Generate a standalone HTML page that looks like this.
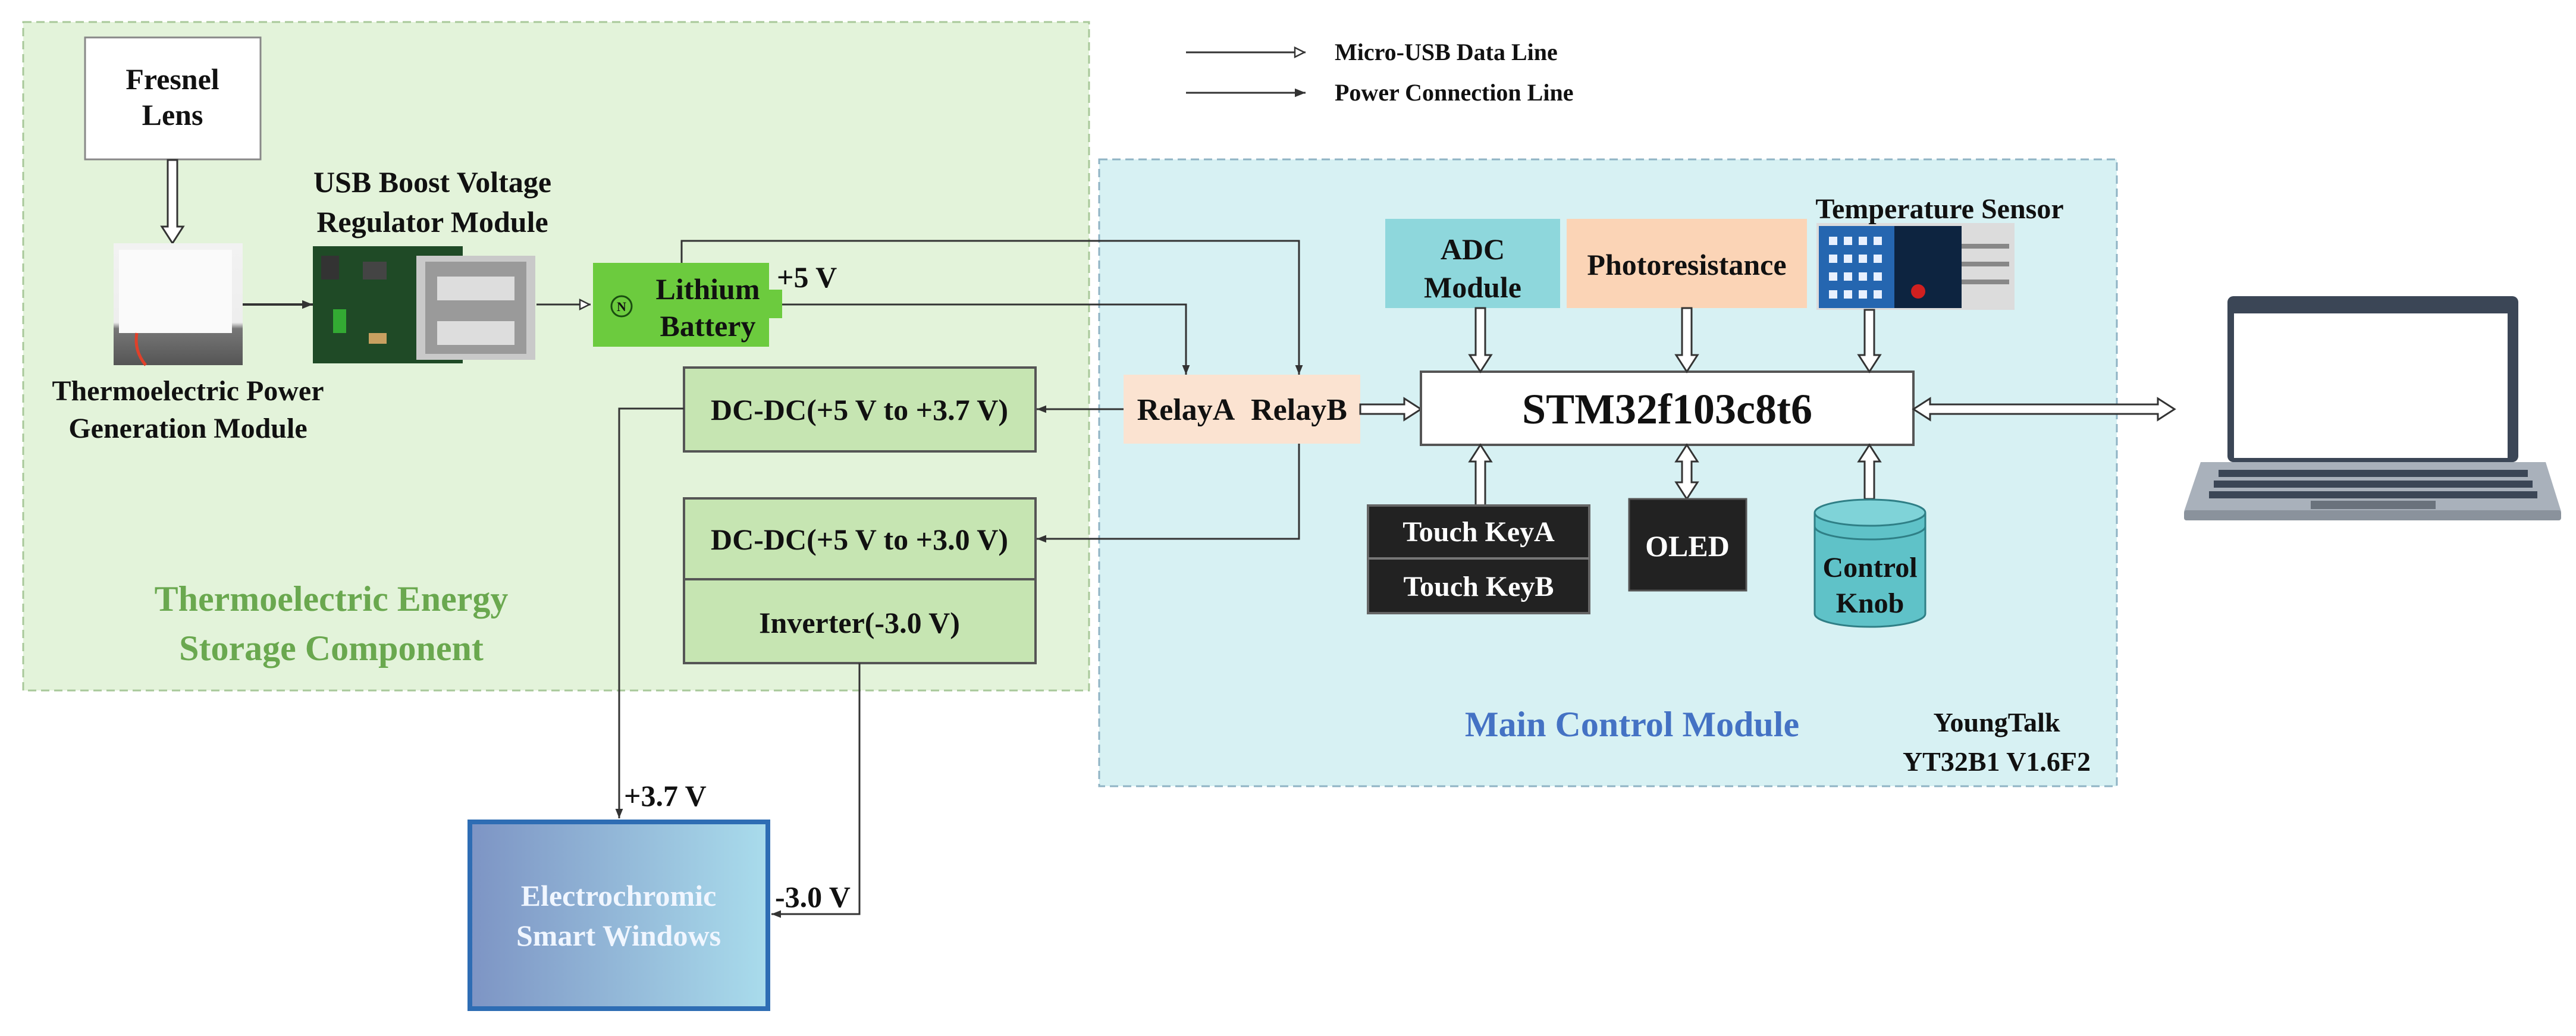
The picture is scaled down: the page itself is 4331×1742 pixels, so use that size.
<!DOCTYPE html>
<html><head><meta charset="utf-8"><style>
html,body{margin:0;padding:0;background:#fff;}
svg{display:block;}
text{font-family:"Liberation Serif",serif;font-weight:bold;fill:#111;}
</style></head><body>
<svg width="4331" height="1742" viewBox="0 0 4331 1742" xmlns="http://www.w3.org/2000/svg">
<defs>
<marker id="fa" viewBox="0 0 10 10" refX="10" refY="5" markerWidth="16" markerHeight="16" markerUnits="userSpaceOnUse" orient="auto"><path d="M0,1 L10,5 L0,9 z" fill="#333"/></marker>
<marker id="fa2" viewBox="0 0 10 10" refX="10" refY="5" markerWidth="18" markerHeight="18" markerUnits="userSpaceOnUse" orient="auto"><path d="M0,1 L10,5 L0,9 z" fill="#333"/></marker>
<marker id="oa" viewBox="0 0 10 10" refX="10" refY="5" markerWidth="20" markerHeight="20" markerUnits="userSpaceOnUse" orient="auto"><path d="M1,1 L9,5 L1,9 z" fill="#fff" stroke="#333" stroke-width="1.2"/></marker>
<linearGradient id="ec" x1="0" x2="1" y1="0" y2="0"><stop offset="0" stop-color="#7d94c4"/><stop offset="1" stop-color="#a9dcec"/></linearGradient>
<linearGradient id="te" x1="0" x2="0" y1="0" y2="1"><stop offset="0" stop-color="#f2f2f2"/><stop offset="0.65" stop-color="#eeeeee"/><stop offset="0.7" stop-color="#777"/><stop offset="1" stop-color="#555"/></linearGradient>
</defs>

<rect x="39" y="37" width="1792" height="1124" fill="#e3f3da" stroke="#a8c89a" stroke-width="3" stroke-dasharray="14,8"/>
<rect x="1848" y="268" width="1711" height="1054" fill="#d7f1f3" stroke="#8fb3c4" stroke-width="3" stroke-dasharray="14,8"/>

<line x1="1994" y1="88" x2="2195" y2="88" stroke="#333" stroke-width="3" marker-end="url(#oa)"/>
<text x="2244" y="101" font-size="40">Micro-USB Data Line</text>
<line x1="1994" y1="156" x2="2195" y2="156" stroke="#333" stroke-width="3" marker-end="url(#fa2)"/>
<text x="2244" y="169" font-size="40">Power Connection Line</text>

<rect x="143" y="63" width="295" height="205" fill="#fff" stroke="#888" stroke-width="3"/>
<text x="290" y="150" font-size="50" text-anchor="middle">Fresnel</text>
<text x="290" y="210" font-size="50" text-anchor="middle">Lens</text>
<polygon points="282,269 298,269 298,381 308,381 290,409 272,381 282,381" fill="#fff" stroke="#333" stroke-width="3"/>

<rect x="191" y="409" width="217" height="205" fill="url(#te)"/>
<rect x="200" y="420" width="190" height="140" fill="#fafafa"/>
<path d="M230,560 Q225,590 245,614" stroke="#e0402a" stroke-width="5" fill="none"/>
<text x="316" y="673" font-size="48" text-anchor="middle">Thermoelectric Power</text>
<text x="316" y="736" font-size="48" text-anchor="middle">Generation Module</text>
<line x1="408" y1="512" x2="526" y2="512" stroke="#333" stroke-width="4" marker-end="url(#fa2)"/>

<rect x="526" y="414" width="252" height="197" fill="#1f4a26"/>
<rect x="540" y="430" width="30" height="40" fill="#333"/><rect x="610" y="440" width="40" height="30" fill="#444"/>
<rect x="560" y="520" width="22" height="40" fill="#3a3"/><rect x="620" y="560" width="30" height="18" fill="#c8a060"/>
<rect x="700" y="430" width="200" height="175" fill="#c9c9c9"/>
<rect x="715" y="440" width="170" height="155" fill="#9a9a9a"/>
<rect x="735" y="465" width="130" height="40" fill="#ddd"/><rect x="735" y="540" width="130" height="40" fill="#ddd"/>
<text x="727" y="323" font-size="50" text-anchor="middle">USB Boost Voltage</text>
<text x="727" y="390" font-size="50" text-anchor="middle">Regulator Module</text>
<line x1="902" y1="512" x2="993" y2="512" stroke="#333" stroke-width="3" marker-end="url(#oa)"/>

<rect x="997" y="442" width="296" height="141" fill="#6ccb3e"/>
<rect x="1293" y="487" width="22" height="48" fill="#6ccb3e"/>
<circle cx="1045" cy="515" r="17" fill="none" stroke="#1a4d10" stroke-width="3"/>
<text x="1045" y="523" font-size="22" text-anchor="middle" fill="#1a4d10">N</text>
<text x="1190" y="503" font-size="50" text-anchor="middle">Lithium</text>
<text x="1190" y="565" font-size="50" text-anchor="middle">Battery</text>
<text x="1306" y="483" font-size="50">+5 V</text>

<polyline points="1146,442 1146,405 2184,405 2184,630" fill="none" stroke="#333" stroke-width="3" marker-end="url(#fa)"/>
<polyline points="1315,512 1994,512 1994,630" fill="none" stroke="#333" stroke-width="3" marker-end="url(#fa)"/>

<rect x="1150" y="618" width="591" height="141" fill="#c6e5b2" stroke="#555" stroke-width="4"/>
<text x="1445" y="706" font-size="50" text-anchor="middle">DC-DC(+5 V to +3.7 V)</text>
<rect x="1150" y="838" width="591" height="136" fill="#c6e5b2" stroke="#555" stroke-width="4"/>
<text x="1445" y="924" font-size="50" text-anchor="middle">DC-DC(+5 V to +3.0 V)</text>
<rect x="1150" y="974" width="591" height="141" fill="#c6e5b2" stroke="#555" stroke-width="4"/>
<text x="1445" y="1064" font-size="50" text-anchor="middle">Inverter(-3.0 V)</text>

<text x="557" y="1027" font-size="60" text-anchor="middle" style="fill:#6aa84f">Thermoelectric Energy</text>
<text x="557" y="1110" font-size="60" text-anchor="middle" style="fill:#6aa84f">Storage Component</text>

<rect x="1889" y="630" width="398" height="116" fill="#fbe3d1"/>
<text x="1994" y="706" font-size="52" text-anchor="middle">RelayA</text>
<text x="2184" y="706" font-size="52" text-anchor="middle">RelayB</text>
<line x1="1889" y1="688" x2="1743" y2="688" stroke="#333" stroke-width="3" marker-end="url(#fa)"/>
<polyline points="2184,746 2184,906 1743,906" fill="none" stroke="#333" stroke-width="3" marker-end="url(#fa)"/>

<polyline points="1150,687 1041,687 1041,1376" fill="none" stroke="#333" stroke-width="3" marker-end="url(#fa)"/>
<text x="1049" y="1355" font-size="50">+3.7 V</text>
<polyline points="1445,1115 1445,1537 1297,1537" fill="none" stroke="#333" stroke-width="3" marker-end="url(#fa)"/>
<text x="1303" y="1525" font-size="50">-3.0 V</text>
<rect x="790" y="1382" width="501" height="314" fill="url(#ec)" stroke="#2e6db4" stroke-width="8"/>
<text x="1040" y="1523" font-size="50" text-anchor="middle" style="fill:#f0f6ff">Electrochromic</text>
<text x="1040" y="1590" font-size="50" text-anchor="middle" style="fill:#f0f6ff">Smart Windows</text>

<polygon points="2287,680 2361,680 2361,670 2389,688 2361,706 2361,696 2287,696" fill="#fff" stroke="#333" stroke-width="3"/>
<rect x="2389" y="625" width="828" height="123" fill="#fff" stroke="#555" stroke-width="4"/>
<text x="2803" y="712" font-size="72" text-anchor="middle">STM32f103c8t6</text>

<rect x="2329" y="368" width="294" height="150" fill="#8ed7dc"/>
<text x="2476" y="436" font-size="50" text-anchor="middle">ADC</text>
<text x="2476" y="500" font-size="50" text-anchor="middle">Module</text>
<rect x="2634" y="368" width="404" height="150" fill="#fbd4b6"/>
<text x="2836" y="462" font-size="50" text-anchor="middle">Photoresistance</text>

<rect x="3054" y="375" width="333" height="146" fill="#dcdcdc"/>
<rect x="3058" y="380" width="240" height="138" fill="#2566b0"/>
<g fill="#e8f0ff">
<rect x="3075" y="398" width="14" height="14"/><rect x="3100" y="398" width="14" height="14"/><rect x="3125" y="398" width="14" height="14"/><rect x="3150" y="398" width="14" height="14"/>
<rect x="3075" y="428" width="14" height="14"/><rect x="3100" y="428" width="14" height="14"/><rect x="3125" y="428" width="14" height="14"/><rect x="3150" y="428" width="14" height="14"/>
<rect x="3075" y="458" width="14" height="14"/><rect x="3100" y="458" width="14" height="14"/><rect x="3125" y="458" width="14" height="14"/><rect x="3150" y="458" width="14" height="14"/>
<rect x="3075" y="488" width="14" height="14"/><rect x="3100" y="488" width="14" height="14"/><rect x="3125" y="488" width="14" height="14"/><rect x="3150" y="488" width="14" height="14"/>
</g>
<rect x="3185" y="380" width="113" height="138" fill="#0d2440"/>
<circle cx="3225" cy="490" r="12" fill="#d02020"/>
<rect x="3298" y="410" width="80" height="8" fill="#888"/><rect x="3298" y="440" width="80" height="8" fill="#888"/><rect x="3298" y="470" width="80" height="8" fill="#888"/>
<text x="3261" y="367" font-size="48" text-anchor="middle">Temperature Sensor</text>

<polygon points="2481,518 2497,518 2497,597 2507,597 2489,625 2471,597 2481,597" fill="#fff" stroke="#333" stroke-width="3"/>
<polygon points="2828,518 2844,518 2844,597 2854,597 2836,625 2818,597 2828,597" fill="#fff" stroke="#333" stroke-width="3"/>
<polygon points="3135,521 3151,521 3151,597 3161,597 3143,625 3125,597 3135,597" fill="#fff" stroke="#333" stroke-width="3"/>
<polygon points="2481,850 2497,850 2497,776 2507,776 2489,748 2471,776 2481,776" fill="#fff" stroke="#333" stroke-width="3"/>
<polygon points="3135,839 3151,839 3151,776 3161,776 3143,748 3125,776 3135,776" fill="#fff" stroke="#333" stroke-width="3"/>
<polygon points="2836,748 2854,776 2844,776 2844,811 2854,811 2836,839 2818,811 2828,811 2828,776 2818,776" fill="#fff" stroke="#333" stroke-width="3"/>
<polygon points="3217,688 3245,670 3245,680 3628,680 3628,670 3656,688 3628,706 3628,696 3245,696 3245,706" fill="#fff" stroke="#333" stroke-width="3"/>

<rect x="2300" y="850" width="372" height="181" fill="#222" stroke="#666" stroke-width="4"/>
<line x1="2300" y1="939" x2="2672" y2="939" stroke="#777" stroke-width="4"/>
<text x="2486" y="910" font-size="48" text-anchor="middle" style="fill:#fff">Touch KeyA</text>
<text x="2486" y="1002" font-size="48" text-anchor="middle" style="fill:#fff">Touch KeyB</text>
<rect x="2739" y="839" width="197" height="154" fill="#222" stroke="#555" stroke-width="3"/>
<text x="2837" y="935" font-size="50" text-anchor="middle" style="fill:#fff">OLED</text>

<path d="M3051,862 L3051,1032 A93,22 0 0 0 3237,1032 L3237,862" fill="#5fc2c8" stroke="#2f7f86" stroke-width="3"/>
<ellipse cx="3144" cy="862" rx="93" ry="22" fill="#7fd3d8" stroke="#2f7f86" stroke-width="3"/>
<path d="M3051,885 A93,22 0 0 0 3237,885" fill="none" stroke="#2f7f86" stroke-width="3"/>
<text x="3144" y="970" font-size="48" text-anchor="middle">Control</text>
<text x="3144" y="1030" font-size="48" text-anchor="middle">Knob</text>

<text x="2744" y="1238" font-size="60" text-anchor="middle" style="fill:#4472c4">Main Control Module</text>
<text x="3357" y="1230" font-size="46" text-anchor="middle">YoungTalk</text>
<text x="3357" y="1296" font-size="46" text-anchor="middle">YT32B1 V1.6F2</text>

<rect x="3745" y="498" width="489" height="279" rx="10" fill="#3b4656"/>
<rect x="3756" y="527" width="460" height="243" fill="#fff"/>
<polygon points="3700,777 4280,777 4306,860 3672,860" fill="#a9b1bb"/>
<rect x="3672" y="858" width="634" height="17" rx="4" fill="#8a929c"/>
<g fill="#3b4656">
<rect x="3730" y="790" width="520" height="12"/><rect x="3722" y="808" width="536" height="12"/><rect x="3714" y="826" width="552" height="12"/>
</g>
<rect x="3885" y="842" width="210" height="14" fill="#6a727c"/>
</svg>
</body></html>
